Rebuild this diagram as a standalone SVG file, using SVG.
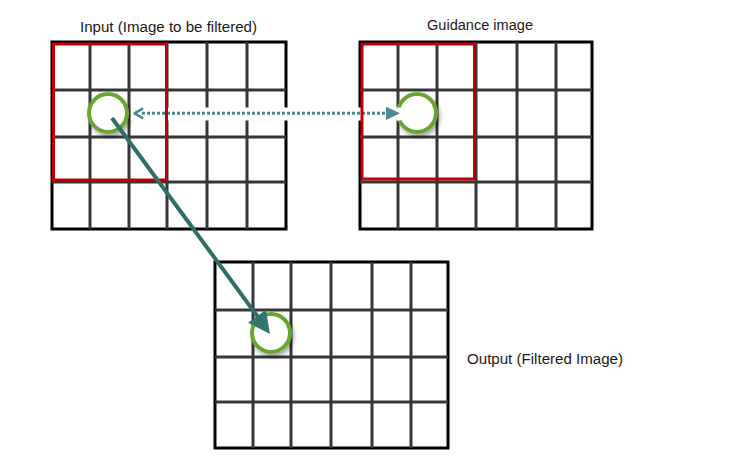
<svg xmlns="http://www.w3.org/2000/svg" width="744" height="462" viewBox="0 0 744 462">
<defs>
<style>
.border{fill:#fff;stroke:#000;stroke-width:3}
.gl{stroke:#363636;stroke-width:3;fill:none}
.win{fill:none;stroke:#c00000;stroke-width:3}
.ring{fill:#fff;stroke:#6aa532;stroke-width:4}
.lbl{font-family:"Liberation Sans",Arial,sans-serif;font-size:14px;fill:#1a1a1a}
</style>
<filter id="sh" x="-50%" y="-50%" width="200%" height="200%">
<feDropShadow dx="2" dy="3" stdDeviation="2" flood-color="#000" flood-opacity="0.35"/>
</filter>
</defs>
<rect width="744" height="462" fill="#fff"/>

<g id="input-grid">
<rect class="border" x="52" y="42" width="234" height="187"/>
<path class="gl" d="M90,42V229M129,42V229M167,42V229M207,42V229M247,42V229M52,90H286M52,137H286M52,182H286"/>
<text class="lbl" x="80" y="31.5" textLength="177" lengthAdjust="spacingAndGlyphs">Input (Image to be filtered)</text>
</g>

<g id="guidance-grid">
<rect class="border" x="360" y="42" width="232" height="187"/>
<path class="gl" d="M398,42V229M437,42V229M476,42V229M517,42V229M556,42V229M360,90H592M360,137H592M360,182H592"/>
<text class="lbl" x="427" y="30" textLength="106" lengthAdjust="spacingAndGlyphs">Guidance image</text>
</g>

<g id="output-grid">
<rect class="border" x="215" y="262" width="233" height="186"/>
<path class="gl" d="M253,262V448M291,262V448M331,262V448M372,262V448M411,262V448M215,310H448M215,357H448M215,402H448"/>
<text class="lbl" x="467" y="364" textLength="156" lengthAdjust="spacingAndGlyphs">Output (Filtered Image)</text>
</g>

<g id="pixel-circles">
<circle class="ring" cx="108" cy="113" r="19" filter="url(#sh)"/>
<circle class="ring" cx="417" cy="113" r="19" filter="url(#sh)"/>
<circle class="ring" cx="271" cy="333" r="19" filter="url(#sh)"/>
</g>

<g id="connectors">
<rect x="131" y="107.5" width="270" height="13" fill="#fff"/>
<line x1="142" y1="113.3" x2="387" y2="113.3" stroke="#4a898c" stroke-width="3" stroke-dasharray="3 2"/>
<path d="M143,108.3 L134.5,113.3 L143,118.3" fill="none" stroke="#4a898c" stroke-width="2.5" stroke-linejoin="round"/>
<polygon points="386,106.7 400,113.3 386,120" fill="#4a898c"/>
</g>

<g id="windows">
<rect class="win" x="53.5" y="44" width="113" height="136"/>
<rect class="win" x="362" y="44" width="112.5" height="135"/>
</g>

<g id="mapping-arrow">
<line x1="112" y1="118" x2="258" y2="317" stroke="#2e6e66" stroke-width="4"/>
<polygon points="270,334 248.1,322.8 265.9,309.8" fill="#337670"/>
</g>
</svg>
